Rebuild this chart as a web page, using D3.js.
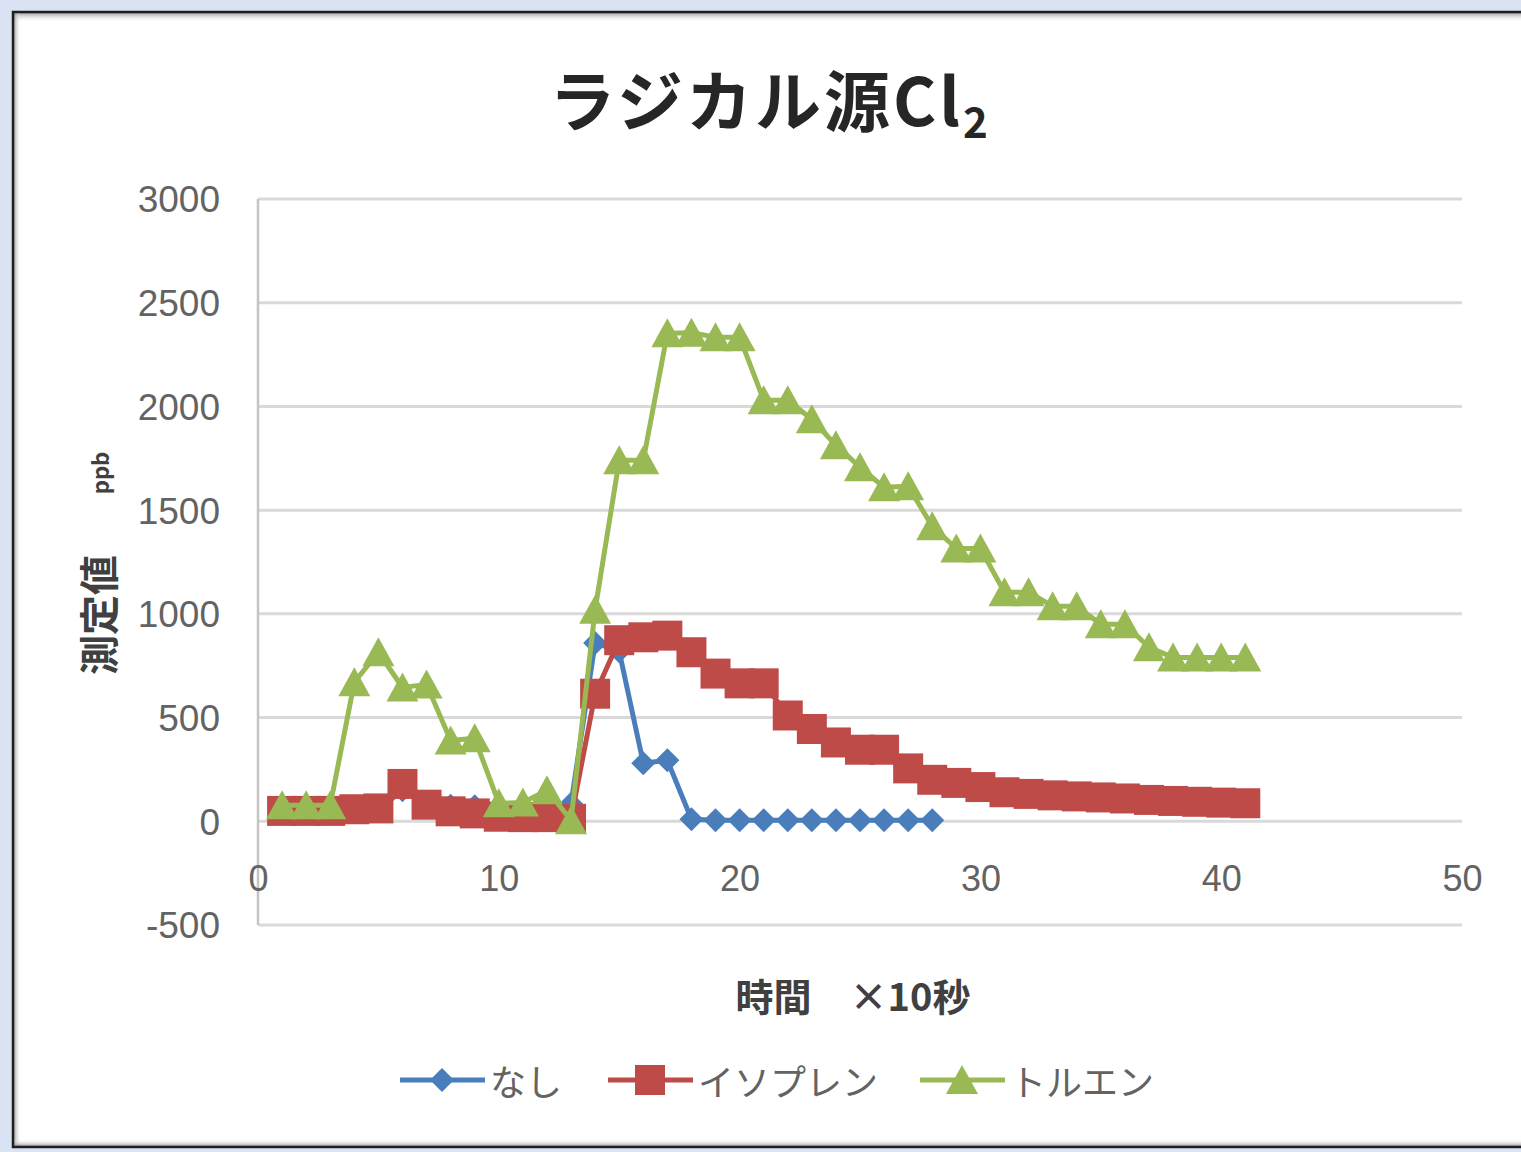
<!DOCTYPE html>
<html>
<head>
<meta charset="utf-8">
<script src="https://cdn.jsdelivr.net/npm/d3@7"></script>
<style>
  html, body { margin: 0; padding: 0; background: #dae3f3; }
  svg { display: block; }
</style>
</head>
<body>
<svg id="chart" width="1521" height="1152"></svg>
<script>
// Measured Cl2 concentration (ppb) per time step (x 10 s)
const timeNone = [1,2,3,4,5,6,7,8,9,10,11,12,13,14,15,16,17,18,19,20,21,22,23,24,25,26,27,28];
const valuesNone = [40,45,40,50,55,150,80,75,72,50,45,50,85,860,820,280,294,10,5,5,5,5,5,5,5,5,5,5];

const timeIsoprene = [1,2,3,4,5,6,7,8,9,10,11,12,13,14,15,16,17,18,19,20,21,22,23,24,25,26,27,28,29,30,31,32,33,34,35,36,37,38,39,40,41];
const valuesIsoprene = [50,50,50,58,62,180,80,48,38,22,20,20,12,615,873,887,895,815,712,665,665,510,445,380,345,345,255,200,185,165,140,132,125,120,115,110,103,98,94,90,87];

const timeToluene = [1,2,3,4,5,6,7,8,9,10,11,12,13,14,15,16,17,18,19,20,21,22,23,24,25,26,27,28,29,30,31,32,33,34,35,36,37,38,39,40,41];
const valuesToluene = [77,77,77,670,815,645,660,390,400,87,90,150,5,1020,1740,1740,2353,2355,2334,2334,2030,2030,1938,1813,1707,1610,1615,1422,1315,1315,1104,1104,1037,1037,950,950,839,790,790,790,790];

const seriesNames = ["なし", "イソプレン", "トルエン"];
const seriesColors = ["#4a7ebb", "#be4b48", "#98b954"];
const markerKinds = ["diamond", "square", "triangle"];

const yTicks = [-500, 0, 500, 1000, 1500, 2000, 2500, 3000];
const xTicks = [0, 10, 20, 30, 40, 50];

const titleMain = "ラジカル源Cl";
const titleSub = "2";
const xTitle = "時間　×10秒";
const yTitleMain = "測定値";
const yTitleUnit = "ppb";

const series = [
  { name: seriesNames[0], xs: timeNone, ys: valuesNone, color: seriesColors[0], marker: markerKinds[0] },
  { name: seriesNames[1], xs: timeIsoprene, ys: valuesIsoprene, color: seriesColors[1], marker: markerKinds[1] },
  { name: seriesNames[2], xs: timeToluene, ys: valuesToluene, color: seriesColors[2], marker: markerKinds[2] }
];

const svg = d3.select("#chart");
const W = 1521, H = 1152;

// ---- frame: blue page, white chart panel with dark border and inner shadow
const defs = svg.append("defs");
function grad(id, x1, y1, x2, y2) {
  const g = defs.append("linearGradient").attr("id", id)
    .attr("x1", x1).attr("y1", y1).attr("x2", x2).attr("y2", y2);
  g.append("stop").attr("offset", "0%").attr("stop-color", "#8c8c8c").attr("stop-opacity", 0.8);
  g.append("stop").attr("offset", "100%").attr("stop-color", "#ffffff").attr("stop-opacity", 0);
}
grad("shTop", 0, 0, 0, 1);
grad("shLeft", 0, 0, 1, 0);
grad("shBottom", 0, 1, 0, 0);

svg.append("rect").attr("width", W).attr("height", H).attr("fill", "#dae3f3");
const panel = { x: 13, y: 12, w: W + 20, h: 1135 };
svg.append("rect").attr("x", panel.x).attr("y", panel.y).attr("width", panel.w).attr("height", panel.h)
  .attr("fill", "#ffffff");
svg.append("rect").attr("x", panel.x).attr("y", panel.y + 1).attr("width", panel.w).attr("height", 9).attr("fill", "url(#shTop)");
svg.append("rect").attr("x", panel.x + 1).attr("y", panel.y).attr("width", 7).attr("height", panel.h).attr("fill", "url(#shLeft)");
svg.append("rect").attr("x", panel.x).attr("y", panel.y + panel.h - 8).attr("width", panel.w).attr("height", 7).attr("fill", "url(#shBottom)");
svg.append("rect").attr("x", panel.x).attr("y", panel.y).attr("width", panel.w).attr("height", panel.h)
  .attr("fill", "none").attr("stroke", "#1f1f1f").attr("stroke-width", 2.5);

// ---- scales
const x = d3.scaleLinear().domain([0, 50]).range([258, 1462]);
const y = d3.scaleLinear().domain([-500, 3000]).range([925, 199]);

// ---- gridlines
svg.append("g").selectAll("line").data(yTicks).join("line")
  .attr("x1", x(0)).attr("x2", x(50))
  .attr("y1", d => y(d)).attr("y2", d => y(d))
  .attr("stroke", "#d9d9d9").attr("stroke-width", 3);

// vertical axis line
svg.append("line").attr("x1", x(0)).attr("x2", x(0)).attr("y1", y(3000)).attr("y2", y(-500))
  .attr("stroke", "#c4c4c4").attr("stroke-width", 2.5);

const plainNumber = d => String(d);

// ---- y axis labels
const yAxis = svg.append("g").attr("transform", `translate(${x(0)},0)`)
  .call(d3.axisLeft(y).tickValues(yTicks).tickSize(0).tickPadding(38).tickFormat(plainNumber));
yAxis.select(".domain").remove();
yAxis.selectAll("text")
  .attr("font-family", "Liberation Sans, Arial, sans-serif")
  .attr("font-size", 37).attr("fill", "#636363").attr("dy", "0.35em");

// ---- x axis labels (axis crosses at 0)
const xAxis = svg.append("g").attr("transform", `translate(0,${y(0)})`)
  .call(d3.axisBottom(x).tickValues(xTicks).tickSize(0).tickFormat(plainNumber));
xAxis.select(".domain").remove();
xAxis.selectAll("text")
  .attr("font-family", "Liberation Sans, Arial, sans-serif")
  .attr("font-size", 36).attr("fill", "#636363")
  .attr("y", 57).attr("dy", "0.35em");

// ---- marker shapes
function markerPath(kind) {
  if (kind === "diamond") return "M0,-12L12,0L0,12L-12,0Z";
  if (kind === "square") return "M-15,-15H15V15H-15Z";
  return "M0,-15L16,14L-16,14Z";
}

// ---- series: lines then markers, drawn in series order
const line = d3.line().x(d => x(d[0])).y(d => y(d[1]));
series.forEach(s => {
  const pts = s.xs.map((t, i) => [t, s.ys[i]]);
  const g = svg.append("g");
  g.append("path").datum(pts).attr("d", line)
    .attr("fill", "none").attr("stroke", s.color).attr("stroke-width", 5)
    .attr("stroke-linejoin", "round");
  g.selectAll("path.mk").data(pts).join("path").attr("class", "mk")
    .attr("d", markerPath(s.marker))
    .attr("transform", d => `translate(${x(d[0])},${y(d[1])})`)
    .attr("fill", s.color);
});

// ---- title
const title = svg.append("text").attr("x", 770).attr("y", 126).attr("text-anchor", "middle")
  .attr("font-family", "Noto Sans CJK JP, sans-serif").attr("font-weight", "bold")
  .attr("font-size", 66).attr("letter-spacing", 3).attr("fill", "#262626");
title.append("tspan").text(titleMain);
title.append("tspan").attr("font-size", 42).attr("dy", 12).text(titleSub);

// ---- axis titles
svg.append("text").attr("x", 853).attr("y", 994).attr("text-anchor", "middle")
  .attr("dominant-baseline", "central")
  .attr("font-family", "Noto Sans CJK JP, sans-serif").attr("font-weight", "bold")
  .attr("font-size", 38).attr("fill", "#404040").text(xTitle);

svg.append("text").attr("transform", "translate(97,615) rotate(-90)")
  .attr("text-anchor", "middle").attr("dominant-baseline", "central")
  .attr("font-family", "Noto Sans CJK JP, sans-serif").attr("font-weight", "bold")
  .attr("font-size", 40).attr("fill", "#404040").text(yTitleMain);
svg.append("text").attr("transform", "translate(99,473) rotate(-90)")
  .attr("text-anchor", "middle").attr("dominant-baseline", "central")
  .attr("font-family", "Noto Sans CJK JP, sans-serif").attr("font-weight", "bold")
  .attr("font-size", 22).attr("fill", "#404040").text(yTitleUnit);

// ---- legend
const legendX = [400, 608, 920];
const legendY = 1080;
series.forEach((s, i) => {
  const g = svg.append("g").attr("transform", `translate(${legendX[i]},${legendY})`);
  g.append("line").attr("x1", 0).attr("x2", 85).attr("y1", 0).attr("y2", 0)
    .attr("stroke", s.color).attr("stroke-width", 5);
  g.append("path").attr("d", markerPath(s.marker)).attr("transform", "translate(42,0)").attr("fill", s.color);
  g.append("text").attr("x", 90).attr("y", 0).attr("dominant-baseline", "central")
    .attr("font-family", "Noto Sans CJK JP, sans-serif").attr("font-size", 36)
    .attr("fill", "#636363").text(s.name);
});
</script>
</body>
</html>
